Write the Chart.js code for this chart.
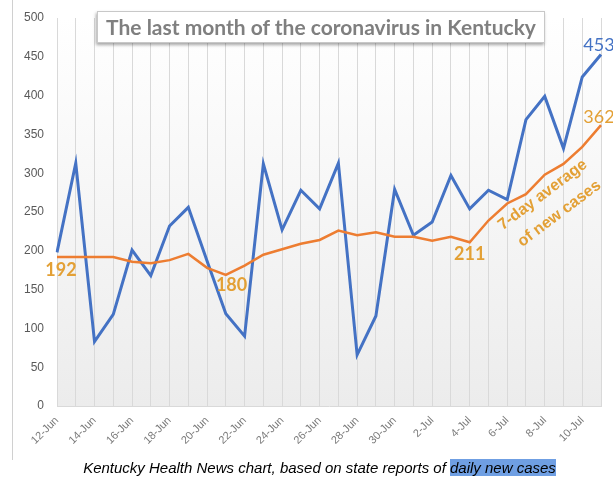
<!DOCTYPE html>
<html>
<head>
<meta charset="utf-8">
<script src="https://cdn.jsdelivr.net/npm/chart.js@4/dist/chart.umd.min.js"></script>
<style>
	body { margin: 0; background: #fff; }
	#wrap { position: relative; width: 613px; height: 481px; overflow: hidden; }
	#frame { position: absolute; left: 12px; top: 0; width: 1px; height: 460px; background: #d0d0d0; }
	#title {
		position: absolute; left: 97px; top: 11px; width: 446px; height: 30px;
		border: 1px solid #c8c8c8; background: #fff;
		box-shadow: -1px 2px 3px rgba(0, 0, 0, 0.35);
		font: bold 21px Lato, sans-serif; color: #7f7f7f;
		text-align: center; line-height: 30px; white-space: nowrap;
	}
	#caption {
		position: absolute; left: 13px; width: 613px; top: 459px; text-align: center;
		font: italic 15px "Liberation Sans", Arial, sans-serif; color: #000; white-space: nowrap;
	}
	#caption span { background: #6f9fe3; }
</style>
</head>
<body>
<div id="wrap">
	<canvas id="chart"></canvas>
	<div id="frame"></div>
	<div id="title">The last month of the coronavirus in Kentucky</div>
	<div id="caption">Kentucky Health News chart, based on state reports of <span>daily new cases</span></div>
</div>
<script>
const dates = [
	"12-Jun", "13-Jun", "14-Jun", "15-Jun", "16-Jun", "17-Jun", "18-Jun", "19-Jun", "20-Jun", "21-Jun",
	"22-Jun", "23-Jun", "24-Jun", "25-Jun", "26-Jun", "27-Jun", "28-Jun", "29-Jun", "30-Jun", "1-Jul",
	"2-Jul", "3-Jul", "4-Jul", "5-Jul", "6-Jul", "7-Jul", "8-Jul", "9-Jul", "10-Jul", "11-Jul"
];
const dailyCases = [
	198, 313, 83, 118, 201, 168, 232, 256, 187, 119,
	90, 312, 227, 278, 254, 313, 66, 116, 279, 220,
	237, 297, 254, 278, 266, 369, 399, 332, 424, 453
];
const weeklyAverage = [
	192, 192, 192, 192, 186, 184, 188, 196, 178, 169,
	181, 195, 202, 209, 214, 226, 220, 224, 218, 218,
	213, 218, 211, 239, 261, 273, 298, 312, 334, 362
];
const yTicks = [0, 50, 100, 150, 200, 250, 300, 350, 400, 450, 500];

// value labels: [dataset, index, text, dx, dy]
const callouts = [
	[1, 0, "192", 4, 13],
	[1, 10, "180", -13, 20],
	[1, 22, "211", 0, 12],
	[0, 29, "453", -2, -9],
	[1, 29, "362", -2, -8]
];

const BLUE = "#4472c4";
const ORANGE = "#ed7d31";
const GOLD = "#e3a035";

const plotBackground = {
	id: "plotBackground",
	beforeDraw(chart) {
		const { ctx, chartArea: a } = chart;
		const g = ctx.createLinearGradient(0, a.top, 0, a.bottom);
		g.addColorStop(0, "#ffffff");
		g.addColorStop(1, "#ececec");
		ctx.save();
		ctx.fillStyle = g;
		ctx.fillRect(a.left, a.top, a.right - a.left, a.bottom - a.top);
		ctx.restore();
	}
};

const labelsPlugin = {
	id: "labelsPlugin",
	afterDatasetsDraw(chart) {
		const ctx = chart.ctx;
		ctx.save();
		ctx.textAlign = "center";
		ctx.textBaseline = "middle";
		callouts.forEach(([ds, i, text, dx, dy]) => {
			const p = chart.getDatasetMeta(ds).data[i];
			const last = i === dates.length - 1;
			ctx.fillStyle = ds === 0 ? BLUE : GOLD;
			ctx.font = (last ? "" : "bold ") + "18px Lato, sans-serif";
			ctx.fillText(text, p.x + dx, p.y + dy);
		});

		// slanted series label beside the average line
		const xs = chart.scales.x, ys = chart.scales.y;
		ctx.fillStyle = GOLD;
		ctx.font = "bold 16px 'Liberation Sans Narrow', 'Arial Narrow', sans-serif";
		ctx.translate(xs.getPixelForValue(26) - 2, ys.getPixelForValue(272));
		ctx.rotate(-37 * Math.PI / 180);
		ctx.fillText("7-day average", 0, 0);
		ctx.fillText("of new cases", 2, 25);
		ctx.restore();
	}
};

new Chart(document.getElementById("chart"), {
	type: "line",
	data: {
		labels: dates,
		datasets: [
			{ data: dailyCases, borderColor: BLUE, borderWidth: 3, pointRadius: 0, tension: 0, order: 2 },
			{ data: weeklyAverage, borderColor: ORANGE, borderWidth: 2.5, pointRadius: 0, tension: 0, order: 1 }
		]
	},
	options: {
		responsive: true,
		maintainAspectRatio: false,
		animation: false,
		layout: { padding: { top: 18, right: 12, bottom: 25, left: 0 } },
		plugins: { legend: { display: false }, tooltip: { enabled: false } },
		scales: {
			x: {
				grid: { color: "#d9d9d9", drawTicks: false },
				border: { color: "#d9d9d9" },
				ticks: {
					autoSkip: false, maxRotation: 45, minRotation: 45, padding: 8,
					color: "#7a7a7a", font: { family: "'Liberation Sans', Arial, sans-serif", size: 11 },
					callback: (v, i) => (i % 2 === 0 ? dates[i] : "")
				},
				afterFit: (s) => { s.height = 50; s.paddingLeft = 0; s.paddingRight = 0; }
			},
			y: {
				min: 0, max: 500,
				afterBuildTicks: (s) => { s.ticks = yTicks.map((v) => ({ value: v })); },
				grid: { display: false },
				border: { display: false },
				ticks: { padding: 5, color: "#595959", font: { family: "'Liberation Sans', Arial, sans-serif", size: 12 } },
				afterFit: (s) => { s.width = 57; }
			}
		}
	},
	plugins: [plotBackground, labelsPlugin]
});
</script>
</body>
</html>
